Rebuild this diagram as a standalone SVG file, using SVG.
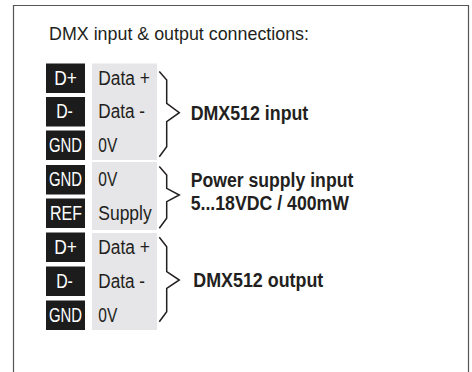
<svg xmlns="http://www.w3.org/2000/svg" width="472" height="372" viewBox="0 0 472 372">
<style>
.pin{fill:#1c1c1c}
.pt{fill:#fff;font-family:"Liberation Sans",Arial,sans-serif;font-size:19.5px;text-anchor:middle}
.grey{fill:#e6e6e8}
.lt{fill:#231f20;font-family:"Liberation Sans",Arial,sans-serif;font-size:19.5px}
.tt{fill:#231f20;font-family:"Liberation Sans",Arial,sans-serif;font-size:18.5px}
.bt{fill:#231f20;font-family:"Liberation Sans",Arial,sans-serif;font-size:19.5px;font-weight:bold}
.br{fill:none;stroke:#231f20;stroke-width:1.5;stroke-linejoin:miter}
</style>
<rect width="472" height="372" fill="#fff"/>
<path d="M13.5 372V5.5H468.5V372" fill="none" stroke="#555" stroke-width="1.2"/>
<text x="49" y="40" class="tt" textLength="260" lengthAdjust="spacingAndGlyphs">DMX input &amp; output connections:</text>

<g id="grey-bands">
<rect class="grey" x="92" y="63.5" width="65" height="96.5"/>
<rect class="grey" x="92" y="162" width="65" height="68"/>
<rect class="grey" x="92" y="233" width="65" height="97"/>
</g>

<g id="in-dplus"><rect class="pin" x="46" y="63.5" width="39" height="29.5"/><text class="pt" x="65.5" y="84.5" textLength="22.7" lengthAdjust="spacingAndGlyphs">D+</text><text class="lt" x="98.3" y="84.5" textLength="51.7" lengthAdjust="spacingAndGlyphs">Data +</text></g>
<g id="in-dminus"><rect class="pin" x="46" y="97" width="39" height="29.5"/><text class="pt" x="64.5" y="118" textLength="16.7" lengthAdjust="spacingAndGlyphs">D-</text><text class="lt" x="98.3" y="118" textLength="46.7" lengthAdjust="spacingAndGlyphs">Data -</text></g>
<g id="in-gnd"><rect class="pin" x="46" y="130.5" width="39" height="29.5"/><text class="pt" x="65.5" y="151.5" textLength="33" lengthAdjust="spacingAndGlyphs">GND</text><text class="lt" x="98.3" y="151.5" textLength="19" lengthAdjust="spacingAndGlyphs">0V</text></g>
<g id="pwr-gnd"><rect class="pin" x="46" y="165" width="39" height="29.5"/><text class="pt" x="65.5" y="186" textLength="33" lengthAdjust="spacingAndGlyphs">GND</text><text class="lt" x="98.3" y="186" textLength="19" lengthAdjust="spacingAndGlyphs">0V</text></g>
<g id="pwr-ref"><rect class="pin" x="46" y="198.5" width="39" height="29.5"/><text class="pt" x="66" y="219.5" textLength="32" lengthAdjust="spacingAndGlyphs">REF</text><text class="lt" x="98.3" y="219.5" textLength="53.4" lengthAdjust="spacingAndGlyphs">Supply</text></g>
<g id="out-dplus"><rect class="pin" x="46" y="232.5" width="39" height="29.5"/><text class="pt" x="65.5" y="253.5" textLength="22.7" lengthAdjust="spacingAndGlyphs">D+</text><text class="lt" x="98.3" y="253.5" textLength="51.7" lengthAdjust="spacingAndGlyphs">Data +</text></g>
<g id="out-dminus"><rect class="pin" x="46" y="266.5" width="39" height="29.5"/><text class="pt" x="64.5" y="287.5" textLength="16.7" lengthAdjust="spacingAndGlyphs">D-</text><text class="lt" x="98.3" y="287.5" textLength="46.7" lengthAdjust="spacingAndGlyphs">Data -</text></g>
<g id="out-gnd"><rect class="pin" x="46" y="300.5" width="39" height="29.5"/><text class="pt" x="65.5" y="321.5" textLength="33" lengthAdjust="spacingAndGlyphs">GND</text><text class="lt" x="98.3" y="321.5" textLength="19" lengthAdjust="spacingAndGlyphs">0V</text></g>

<g id="connectors">
<polyline class="br" points="159.3,71.5 166.7,80 166.7,103.3 179.3,112.7 166.7,121.7 166.7,146.7 159.3,156.7"/>
<polyline class="br" points="159.3,166.5 166.7,175 166.7,188.3 179.3,195 166.7,201.7 166.7,218.3 159.3,228.3"/>
<polyline class="br" points="159.3,237.3 166.7,246.7 166.7,271.7 179.3,280 166.7,288.3 166.7,311.7 159.3,321.7"/>
</g>

<g id="label-dmx-in"><text class="bt" x="190.7" y="120" textLength="117.6" lengthAdjust="spacingAndGlyphs">DMX512 input</text></g>
<g id="label-power"><text class="bt" x="190.7" y="187.3" textLength="162.6" lengthAdjust="spacingAndGlyphs">Power supply input</text><text class="bt" x="190.7" y="210.3" textLength="158.3" lengthAdjust="spacingAndGlyphs">5...18VDC / 400mW</text></g>
<g id="label-dmx-out"><text class="bt" x="193.3" y="286.7" textLength="130" lengthAdjust="spacingAndGlyphs">DMX512 output</text></g>
</svg>
